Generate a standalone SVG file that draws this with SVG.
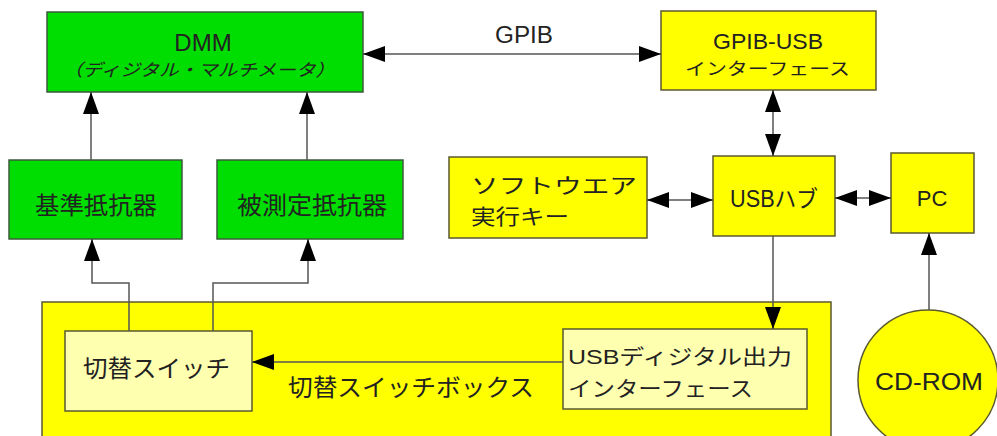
<svg xmlns="http://www.w3.org/2000/svg" width="997" height="436" viewBox="0 0 997 436">
<defs>
<marker id="ah" viewBox="0 0 22 16" refX="22" refY="8" markerWidth="22" markerHeight="16" markerUnits="userSpaceOnUse" orient="auto-start-reverse">
<path d="M0,0 L22,8 L0,16 Z" fill="#000"/>
</marker>
<style>
.g{fill:#00dd00;stroke:#3c5a3c;stroke-width:1.5}
.y{fill:#ffff00;stroke:#5a5a30;stroke-width:1.5}
.ly{fill:#ffffb0;stroke:#5a5a30;stroke-width:1.5}
.c{fill:none;stroke:#555;stroke-width:1.5}
.a{marker-end:url(#ah)}
.b{marker-start:url(#ah);marker-end:url(#ah)}
text{font-family:"Liberation Sans","Noto Sans CJK JP",sans-serif;fill:#222}
.j{font-family:"Noto Sans CJK JP",sans-serif}
</style>
</defs>
<rect width="997" height="436" fill="#fff"/>
<g id="switchbox">
<rect class="y" x="42" y="302" width="789" height="140"/>
<text class="j" x="288" y="396" font-size="24" textLength="246" lengthAdjust="spacingAndGlyphs">切替スイッチボックス</text>
</g>
<g id="dmm">
<rect class="g" x="47" y="12" width="316" height="80"/>
<text x="203" y="51" font-size="24" text-anchor="middle">DMM</text>
<text class="j" x="63" y="76" font-size="17" font-style="italic" textLength="272" lengthAdjust="spacingAndGlyphs">（ディジタル・マルチメータ）</text>
</g>
<g id="gpibusb">
<rect class="y" x="661" y="11" width="215" height="79"/>
<text x="768" y="49" font-size="22" text-anchor="middle" textLength="110" lengthAdjust="spacingAndGlyphs">GPIB-USB</text>
<text class="j" x="685" y="75" font-size="17" textLength="165" lengthAdjust="spacingAndGlyphs">インターフェース</text>
</g>
<g id="ref">
<rect class="g" x="9" y="160" width="173" height="79"/>
<text class="j" x="35" y="214" font-size="24" textLength="122" lengthAdjust="spacingAndGlyphs">基準抵抗器</text>
</g>
<g id="dut">
<rect class="g" x="217" y="160" width="186" height="79"/>
<text class="j" x="237" y="214" font-size="24" textLength="150" lengthAdjust="spacingAndGlyphs">被測定抵抗器</text>
</g>
<g id="key">
<rect class="y" x="449" y="157" width="198" height="81"/>
<text class="j" x="471" y="193" font-size="21" textLength="166" lengthAdjust="spacingAndGlyphs">ソフトウエア</text>
<text class="j" x="471" y="224" font-size="21" textLength="98" lengthAdjust="spacingAndGlyphs">実行キー</text>
</g>
<g id="hub">
<rect class="y" x="713" y="156" width="122" height="80"/>
<text x="774" y="207" font-size="23" text-anchor="middle" textLength="88" lengthAdjust="spacingAndGlyphs">USBハブ</text>
</g>
<g id="pc">
<rect class="y" x="891" y="153" width="83" height="80"/>
<text x="932" y="206" font-size="22" text-anchor="middle">PC</text>
</g>
<g id="switch">
<rect class="ly" x="65" y="331" width="187" height="80"/>
<text class="j" x="83" y="377" font-size="24" textLength="147" lengthAdjust="spacingAndGlyphs">切替スイッチ</text>
</g>
<g id="usbdo">
<rect class="ly" x="563" y="329" width="244" height="80"/>
<text x="568" y="364" font-size="21" textLength="224" lengthAdjust="spacingAndGlyphs">USBディジタル出力</text>
<text class="j" x="568" y="396" font-size="21" textLength="185" lengthAdjust="spacingAndGlyphs">インターフェース</text>
</g>
<g id="cdrom">
<circle cx="928" cy="380" r="70" fill="#ffff00" stroke="#5a5a30" stroke-width="1.5"/>
<text x="929" y="390" font-size="24" text-anchor="middle" textLength="108" lengthAdjust="spacingAndGlyphs">CD-ROM</text>
</g>
<g id="connectors">
<line class="c b" x1="363" y1="54" x2="661" y2="54"/>
<text x="524" y="43" font-size="23" text-anchor="middle" textLength="58" lengthAdjust="spacingAndGlyphs">GPIB</text>
<line class="c a" x1="91" y1="160" x2="91" y2="92"/>
<line class="c a" x1="307" y1="160" x2="307" y2="92"/>
<line class="c b" x1="773" y1="90" x2="773" y2="156"/>
<line class="c b" x1="647" y1="200" x2="713" y2="200"/>
<line class="c b" x1="835" y1="198" x2="891" y2="198"/>
<line class="c a" x1="929" y1="310" x2="929" y2="233"/>
<line class="c a" x1="773" y1="236" x2="773" y2="329"/>
<line class="c a" x1="563" y1="362" x2="252" y2="362"/>
<polyline class="c a" points="129,331 129,283 92,283 92,239"/>
<polyline class="c a" points="213,331 213,283 308,283 308,239"/>
</g>
</svg>
